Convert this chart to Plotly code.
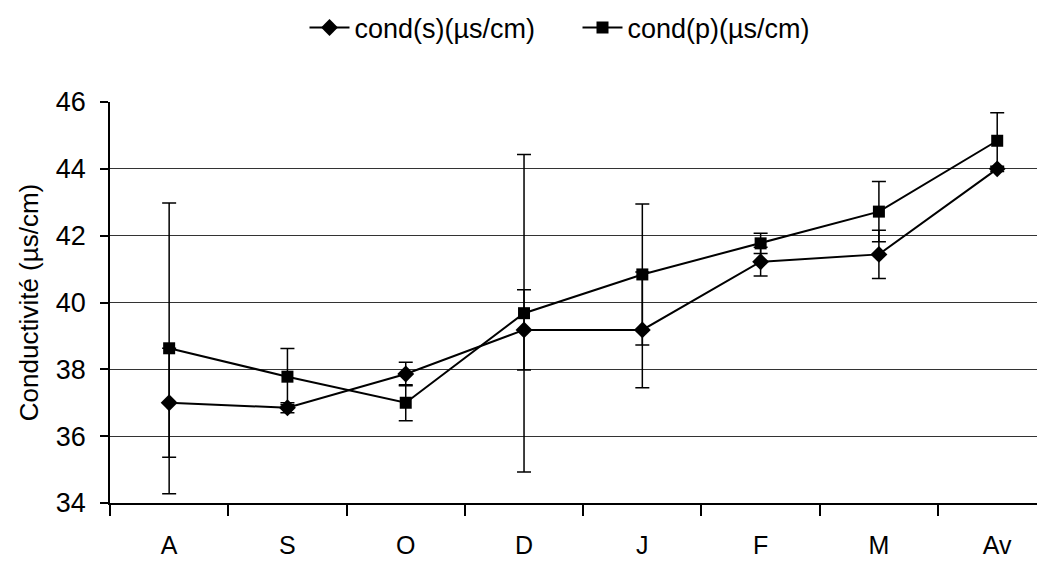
import plotly.graph_objects as go

months = ["A", "S", "O", "D", "J", "F", "M", "Av"]
cond_s = [37.0, 36.85, 37.86, 39.18, 39.18, 41.22, 41.44, 44.0]
err_s = [1.63, 0.15, 0.35, 1.2, 1.73, 0.43, 0.72, 0.08]
cond_p = [38.63, 37.78, 37.0, 39.68, 40.84, 41.77, 42.72, 44.84]
err_p = [4.35, 0.84, 0.54, 4.75, 2.11, 0.3, 0.9, 0.84]

FONT = "Arial, Liberation Sans, sans-serif"

fig = go.Figure()
fig.add_trace(go.Scatter(
    x=months, y=cond_s, name="cond(s)(µs/cm)", mode="lines+markers",
    line=dict(color="black", width=2),
    marker=dict(symbol="diamond", size=13, color="black"),
    error_y=dict(type="data", array=err_s, visible=True, color="black", thickness=1.5, width=7),
))
fig.add_trace(go.Scatter(
    x=months, y=cond_p, name="cond(p)(µs/cm)", mode="lines+markers",
    line=dict(color="black", width=2),
    marker=dict(symbol="square", size=12, color="black"),
    error_y=dict(type="data", array=err_p, visible=True, color="black", thickness=1.5, width=7),
))

# page has an 8px body margin, so the figure is sized to fit inside it
fig.update_layout(
    width=1037, height=554,
    margin=dict(l=102, r=0, t=94, b=59),
    paper_bgcolor="white", plot_bgcolor="white",
    font=dict(family=FONT, color="black"),
    showlegend=True,
    legend=dict(orientation="h", x=0.5, xanchor="center", y=0.964, yanchor="middle",
                xref="paper", yref="container", entrywidth=218,
                font=dict(size=27, family=FONT), itemwidth=40, bgcolor="rgba(0,0,0,0)"),
    xaxis=dict(
        type="category", range=[-0.5, 7.404], tickson="boundaries",
        ticks="outside", ticklen=11, tickwidth=1.5, tickcolor="black",
        showgrid=False, showline=True, linecolor="black", linewidth=1.5,
        tickfont=dict(size=25, family=FONT), ticklabelstandoff=19,
        zeroline=False, automargin=False,
    ),
    yaxis=dict(
        range=[34, 46], dtick=2, tick0=34,
        ticks="outside", ticklen=8, tickwidth=1.5, tickcolor="black",
        showgrid=True, gridcolor="#333333", gridwidth=1,
        showline=True, linecolor="black", linewidth=1.5,
        tickfont=dict(size=27, family=FONT), ticklabelstandoff=9,
        title=dict(text="Conductivité (µs/cm)", font=dict(size=26, family=FONT), standoff=10),
        zeroline=False, automargin=False,
    ),
)

fig.write_html("out.html")
